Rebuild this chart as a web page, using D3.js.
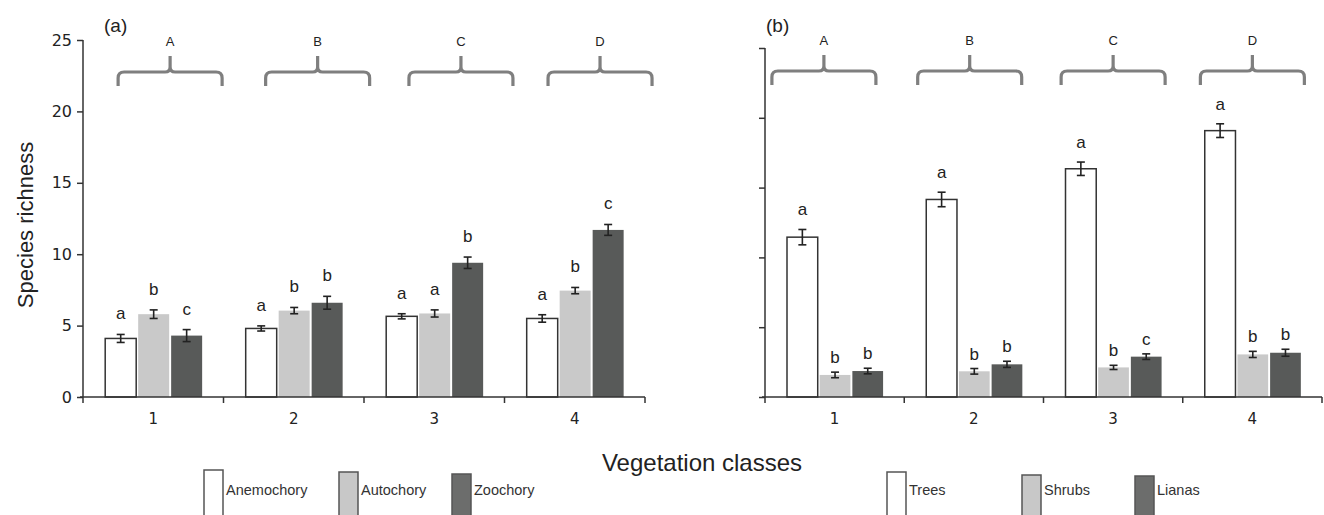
<!DOCTYPE html>
<html>
<meta charset="utf-8" />
<head>
    <title>Species richness by vegetation class</title>
    <script src="https://d3js.org/d3.v7.min.js"></script>
    <style>
        body { margin: 0; background: #fff; }
        text { font-family: "Liberation Sans", Arial, sans-serif; fill: #222; }
        .tick-num { font-family: "DejaVu Sans", Verdana, sans-serif; }
    </style>
</head>
<body>
<div id="chart"></div>
<script type="text/javascript">
    // vegetation classes and the bracket groups above them
    var categories = ["1", "2", "3", "4"];
    var bracketLabels = ["A", "B", "C", "D"];
    var yTicks = [0, 5, 10, 15, 20, 25];

    // (a) dispersal syndromes
    var dispersalNames = ["Anemochory", "Autochory", "Zoochory"];
    var anemochory = [4.1, 4.8, 5.65, 5.5];
    var autochory = [5.8, 6.05, 5.85, 7.45];
    var zoochory = [4.3, 6.6, 9.4, 11.7];
    var anemochoryErr = [0.28, 0.18, 0.18, 0.26];
    var autochoryErr = [0.3, 0.22, 0.25, 0.22];
    var zoochoryErr = [0.42, 0.45, 0.4, 0.38];
    var lettersA = [["a", "b", "c"], ["a", "b", "b"], ["a", "a", "b"], ["a", "b", "c"]];

    // (b) growth forms
    var growthNames = ["Trees", "Shrubs", "Lianas"];
    var trees = [11.45, 14.15, 16.35, 19.08];
    var shrubs = [1.58, 1.84, 2.12, 3.05];
    var lianas = [1.86, 2.34, 2.89, 3.17];
    var treesErr = [0.55, 0.52, 0.48, 0.49];
    var shrubsErr = [0.2, 0.2, 0.15, 0.22];
    var lianasErr = [0.2, 0.22, 0.2, 0.25];
    var lettersB = [["a", "b", "b"], ["a", "b", "b"], ["a", "b", "c"], ["a", "b", "b"]];

    const W = 1324, H = 515;
    var barFill = ["#ffffff", "#c9c9c9", "#585a59"];
    var legendFill = ["#ffffff", "#c8c8c8", "#6c6d6c"];
    var axisColor = "#333";

    var svg = d3.select("#chart").append("svg")
        .attr("width", W)
        .attr("height", H);

    function drawPanel(p) {
        var g = svg.append("g");
        var x = d3.scaleBand().domain(categories).range(p.xRange);
        var bw = x.bandwidth();
        var xs = d3.scaleBand().domain(d3.range(3))
            .range([bw * 0.158, bw * 0.848]).paddingInner(0.06);
        var y = d3.scaleLinear().domain([0, 25]).range(p.yRange);

        // rows: one per bar
        var rows = [];
        categories.forEach(function(c, i) {
            for (let s = 0; s < 3; ++s) {
                rows.push({cat: c, ci: i, s: s, v: p.values[s][i],
                    e: p.errors[s][i], letter: p.letters[i][s]});
            }
        });

        // bars
        g.selectAll("rect.bar")
            .data(rows)
            .enter()
            .append("rect")
            .attr("class", "bar")
            .attr("x", d => x(d.cat) + xs(d.s))
            .attr("y", d => y(d.v))
            .attr("width", xs.bandwidth())
            .attr("height", d => y(0) - y(d.v))
            .style("fill", d => barFill[d.s])
            .style("stroke", d => d.s === 0 ? "#333" : "none")
            .style("stroke-width", 1.5);

        // error bars
        var cap = 4;
        var eb = g.selectAll("g.err").data(rows).enter().append("g")
            .attr("class", "err")
            .style("stroke", "#222")
            .style("stroke-width", 1.6);
        eb.append("line")
            .attr("x1", d => x(d.cat) + xs(d.s) + xs.bandwidth() / 2)
            .attr("x2", d => x(d.cat) + xs(d.s) + xs.bandwidth() / 2)
            .attr("y1", d => y(d.v - d.e))
            .attr("y2", d => y(d.v + d.e));
        [-1, 1].forEach(function(sign) {
            eb.append("line")
                .attr("x1", d => x(d.cat) + xs(d.s) + xs.bandwidth() / 2 - cap)
                .attr("x2", d => x(d.cat) + xs(d.s) + xs.bandwidth() / 2 + cap)
                .attr("y1", d => y(d.v + sign * d.e))
                .attr("y2", d => y(d.v + sign * d.e));
        });

        // significance letters
        g.selectAll("text.letter")
            .data(rows)
            .enter()
            .append("text")
            .attr("class", "letter")
            .attr("x", d => x(d.cat) + xs(d.s) + xs.bandwidth() / 2)
            .attr("y", d => y(d.v + d.e) - p.letterGap[d.s])
            .attr("text-anchor", "middle")
            .style("font-size", "17px")
            .text(d => d.letter);

        // y axis
        var yAxis = d3.axisLeft(y).tickValues(yTicks).tickSize(6).tickPadding(5)
            .tickFormat(p.showY ? d3.format("d") : "");
        var ya = g.append("g")
            .attr("transform", "translate(" + p.xRange[0] + ",0)")
            .call(yAxis);
        ya.select(".domain").attr("d", "M0," + y(25) + "V" + y(0));
        ya.selectAll("text").attr("class", "tick-num")
            .style("font-size", "16px").style("fill", "#222");

        // x axis, ticks at band edges
        var edges = categories.map(c => x(c)).concat([p.xRange[1]]);
        var xa = g.append("g").attr("transform", "translate(0," + y(0) + ")");
        xa.append("line")
            .attr("x1", p.xRange[0] - 3).attr("x2", p.xRange[1])
            .attr("y1", 0).attr("y2", 0);
        xa.selectAll("line.xt").data(edges).enter().append("line")
            .attr("class", "xt")
            .attr("x1", d => d).attr("x2", d => d)
            .attr("y1", 0).attr("y2", 6);
        xa.selectAll("text").data(categories).enter().append("text")
            .attr("class", "tick-num")
            .attr("x", d => x(d) + bw / 2)
            .attr("y", 27)
            .attr("text-anchor", "middle")
            .style("font-size", "15px")
            .text(d => d);
        g.selectAll(".tick line, .domain").style("stroke", axisColor).style("stroke-width", 1.5);
        xa.selectAll("line").style("stroke", axisColor).style("stroke-width", 1.5);

        // brackets over the groups
        var half = 52;
        bracketLabels.forEach(function(lab, i) {
            var cx = x(categories[i]) + bw / 2 + p.bracketShift[i] * bw;
            var l = cx - half, r = cx + half, yb = p.bracketY;
            var path = "M" + l + "," + (yb + 14) + "L" + l + "," + (yb + 6) +
                "Q" + l + "," + yb + " " + (l + 6) + "," + yb +
                "L" + (cx - 5) + "," + yb +
                "Q" + cx + "," + yb + " " + cx + "," + (yb - 5) +
                "L" + cx + "," + (yb - 16) +
                "M" + cx + "," + (yb - 5) +
                "Q" + cx + "," + yb + " " + (cx + 5) + "," + yb +
                "L" + (r - 6) + "," + yb +
                "Q" + r + "," + yb + " " + r + "," + (yb + 6) +
                "L" + r + "," + (yb + 14);
            g.append("path").attr("d", path)
                .style("fill", "none").style("stroke", "#7f7f7f")
                .style("stroke-width", 3.2);
            g.append("text")
                .attr("x", cx).attr("y", yb - 26)
                .attr("text-anchor", "middle")
                .style("font-size", "13px")
                .text(lab);
        });

        // panel tag
        g.append("text")
            .attr("x", p.tagX).attr("y", 32)
            .style("font-size", "19px")
            .text(p.tag);

        // legend
        p.names.forEach(function(name, s) {
            var lx = p.legendX[s];
            g.append("rect")
                .attr("x", lx).attr("y", p.legendY[s])
                .attr("width", 19).attr("height", 516 - p.legendY[s])
                .style("fill", legendFill[s])
                .style("stroke", "#555").style("stroke-width", 1.5);
            g.append("text")
                .attr("x", lx + 22).attr("y", 495)
                .style("font-size", "14.5px")
                .style("fill", "#333")
                .text(name);
        });
    }

    drawPanel({
        tag: "(a)", tagX: 104,
        xRange: [83, 645], yRange: [397, 40], showY: true,
        values: [anemochory, autochory, zoochory],
        errors: [anemochoryErr, autochoryErr, zoochoryErr],
        letters: lettersA, letterGap: [15, 15, 15],
        bracketShift: [0.12, 0.17, 0.19, 0.18], bracketY: 72,
        names: dispersalNames, legendX: [204, 339, 452], legendY: [470, 472, 474]
    });

    drawPanel({
        tag: "(b)", tagX: 766,
        xRange: [765, 1322], yRange: [397, 48], showY: false,
        values: [trees, shrubs, lianas],
        errors: [treesErr, shrubsErr, lianasErr],
        letters: lettersB, letterGap: [14, 9, 9],
        bracketShift: [-0.077, -0.03, 0, 0], bracketY: 71,
        names: growthNames, legendX: [887, 1022, 1135], legendY: [472, 475, 476]
    });

    // shared axis titles
    svg.append("text")
        .attr("transform", "translate(33,225) rotate(-90)")
        .attr("text-anchor", "middle")
        .style("font-size", "22px")
        .text("Species richness");

    svg.append("text")
        .attr("x", 702).attr("y", 471)
        .attr("text-anchor", "middle")
        .style("font-size", "24px")
        .text("Vegetation classes");
</script>
</body>
</html>
